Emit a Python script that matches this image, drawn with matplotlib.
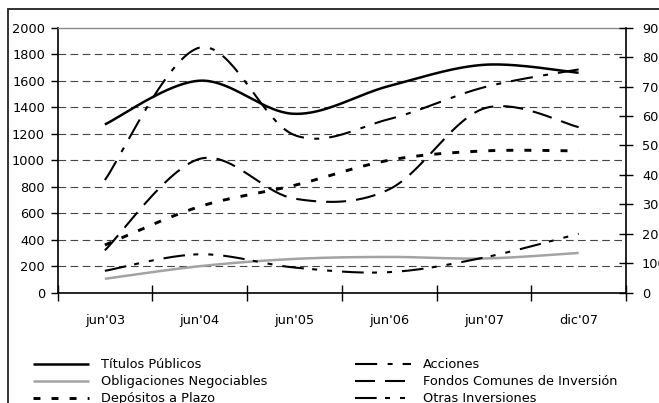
import numpy as np
import matplotlib
matplotlib.use("Agg")
import matplotlib.pyplot as plt
from matplotlib.patches import Rectangle

plt.rcParams['font.family'] = ['DejaVu Sans']
plt.rcParams['lines.scale_dashes'] = False

# Categories and series (left axis units)
categories = ["jun'03", "jun'04", "jun'05", "jun'06", "jun'07", "dic'07"]
titulos_publicos = [1270, 1600, 1350, 1560, 1720, 1660]
obligaciones_negociables = [105, 200, 255, 270, 258, 300]
depositos_plazo = [360, 650, 810, 1000, 1070, 1070]
acciones = [850, 1850, 1190, 1310, 1550, 1685]
fondos_comunes = [320, 1010, 710, 780, 1390, 1250]
otras_inversiones = [165, 290, 190, 155, 265, 445]

left_ticks = list(range(0, 2001, 200))
right_ticks = list(range(0, 901, 100))

FS = 9.3
W, H, DPI = 659, 403, 100


def smooth(values, n=40):
    """Bezier smoothing through every point (Catmull-Rom style control points)."""
    y = np.asarray(values, float)
    x = np.arange(len(y), dtype=float)
    ye = np.concatenate([[y[0]], y, [y[-1]]])
    xe = np.concatenate([[x[0]], x, [x[-1]]])
    t = np.linspace(0, 1, n)
    xs, ys = [], []
    for i in range(len(y) - 1):
        for src, ext, out in ((x, xe, xs), (y, ye, ys)):
            p0, p3 = src[i], src[i + 1]
            c1 = p0 + (ext[i + 2] - ext[i]) / 6.0
            c2 = p3 - (ext[i + 3] - ext[i + 1]) / 6.0
            seg = ((1 - t) ** 3 * p0 + 3 * (1 - t) ** 2 * t * c1
                   + 3 * (1 - t) * t ** 2 * c2 + t ** 3 * p3)
            out.append(seg if i == 0 else seg[1:])
    return np.concatenate(xs), np.concatenate(ys)


fig = plt.figure(figsize=(W / DPI, H / DPI), dpi=DPI)
fig.patch.set_facecolor('white')

# outer chart frame
fig.add_artist(Rectangle((8 / W, -0.2), 1.5, (H - 9) / H + 0.2,
                         transform=fig.transFigure, fill=False,
                         edgecolor='#222222', linewidth=1.3))

left, right = 57.5 / W, 626 / W
bottom, top = (H - 292.7) / H, (H - 27.7) / H
ax = fig.add_axes([left, bottom, right - left, top - bottom])
ax.set_facecolor('white')

series = [
    ("Títulos Públicos", titulos_publicos,
     dict(color='black', lw=1.8, ls='-')),
    ("Obligaciones Negociables", obligaciones_negociables,
     dict(color='#a3a3a3', lw=1.8, ls='-')),
    ("Depósitos a Plazo", depositos_plazo,
     dict(color='black', lw=2.1, ls=(0, (5.0, 8.0)))),
    ("Acciones", acciones,
     dict(color='black', lw=1.5, ls=(0, (16.0, 7.5, 3.6, 7.2)))),
    ("Fondos Comunes de Inversión", fondos_comunes,
     dict(color='black', lw=1.5, ls=(0, (14.4, 7.2)))),
    ("Otras Inversiones", otras_inversiones,
     dict(color='black', lw=1.5, ls=(0, (15.6, 6.0, 3.6, 7.2, 3.6, 7.2)))),
]

handles = []
for label, vals, st in series:
    xs, ys = smooth(vals)
    h, = ax.plot(xs, ys, color=st['color'], lw=st['lw'], linestyle=st['ls'],
                 dash_capstyle='butt', solid_capstyle='butt', label=label,
                 zorder=3)
    handles.append(h)

ax.set_xlim(-0.5, len(categories) - 0.5)
ax.set_ylim(0, 2000)

# dashed horizontal grid
for v in left_ticks[1:-1]:
    ax.axhline(v, color='#444444', lw=0.8, linestyle=(0, (5.5, 3.2)), zorder=1)

ax.set_yticks(left_ticks)
ax.set_yticklabels([str(v) for v in left_ticks], fontsize=FS)
ax.tick_params(axis='y', direction='out', length=5, width=1, pad=4)

ax.set_xticks(np.arange(len(categories)))
ax.set_xticklabels(categories, fontsize=FS)
ax.tick_params(axis='x', which='major', length=0, pad=15)
ax.set_xticks(np.arange(len(categories) + 1) - 0.5, minor=True)
ax.tick_params(axis='x', which='minor', direction='inout', length=11, width=1)

for s in ('left', 'bottom'):
    ax.spines[s].set_color('black')
    ax.spines[s].set_linewidth(1.2)
ax.spines['top'].set_color('#8a8a8a')
ax.spines['top'].set_linewidth(1.0)
ax.spines['right'].set_visible(False)

ax2 = ax.twinx()
ax2.set_ylim(0, 900)
ax2.set_yticks(right_ticks)
ax2.set_yticklabels([str(v) for v in right_ticks], fontsize=FS)
ax2.tick_params(axis='y', direction='inout', length=10, width=1, pad=6.5)
for s in ('left', 'top', 'bottom'):
    ax2.spines[s].set_visible(False)
ax2.spines['right'].set_color('black')
ax2.spines['right'].set_linewidth(1.2)

# two-column legend, one legend per column
leg_kw = dict(loc='upper left', frameon=False, fontsize=FS, handlelength=4.3,
              handletextpad=0.95, labelspacing=0.3, borderpad=0,
              borderaxespad=0)
leg1 = fig.legend(handles[:3], [s[0] for s in series[:3]],
                  bbox_to_anchor=(33 / W, (H - 358.5) / H), **leg_kw)
leg2 = fig.legend(handles[3:], [s[0] for s in series[3:]],
                  bbox_to_anchor=(355 / W, (H - 358.5) / H), **leg_kw)

fig.savefig('out.png', dpi=DPI, facecolor='white')
